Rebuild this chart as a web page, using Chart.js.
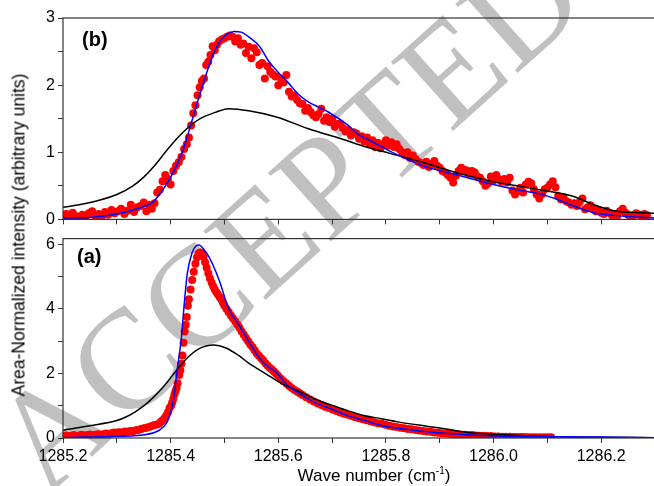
<!DOCTYPE html>
<html>
<head>
<meta charset="utf-8">
<script src="https://cdn.jsdelivr.net/npm/chart.js@4/dist/chart.umd.min.js"></script>
<style>
  html, body { margin: 0; padding: 0; background: #fff; overflow: hidden; }
  #wrap { position: relative; width: 654px; height: 486px; overflow: hidden; font-family: Arial, "Liberation Sans", sans-serif; }
  canvas { position: absolute; left: 0; z-index: 1; }
  #cb { top: 0; }
  #ca { top: 226px; }
  .wm { position: absolute; left: 286px; top: 217px; transform: translate(-50%, -50%) rotate(-42deg);
        font-family: "Liberation Serif", "DejaVu Serif", serif; font-size: 142px; line-height: 1;
        color: #c0c0c0; white-space: nowrap; z-index: 0; }
  .ytitle { position: absolute; left: 19px; top: 235px; transform: translate(-50%, -50%) rotate(-90deg);
            font-size: 17.5px; white-space: nowrap; z-index: 2; }
  .xtitle { position: absolute; left: 374px; top: 475px; transform: translate(-50%, -50%);
            font-size: 17px; white-space: nowrap; z-index: 2; line-height: 1; }
  .xtitle sup { font-size: 10px; }
  .plab { position: absolute; font-weight: bold; font-size: 20px; z-index: 2; line-height: 1; }
</style>
</head>
<body>
<div id="wrap">
  <div class="wm">ACCEPTED</div>
  <canvas id="cb" width="659" height="232"></canvas>
  <canvas id="ca" width="659" height="260"></canvas>
  <div class="plab" style="left:82px;top:29px;">(b)</div>
  <div class="plab" style="left:77px;top:246px;">(a)</div>
  <div class="ytitle">Area-Normalized intensity (arbitrary units)</div>
  <div class="xtitle">Wave number (cm<sup>-1</sup>)</div>
</div>
<script>
// ── axis ticks ────────────────────────────────────────────────────────────────
const xTickValues = [1285.2, 1285.3, 1285.4, 1285.5, 1285.6, 1285.7, 1285.8, 1285.9, 1286.0, 1286.1, 1286.2];
const xTickLabels = ['1285.2', '', '1285.4', '', '1285.6', '', '1285.8', '', '1286.0', '', '1286.2'];
const bTickValues = [0, 0.5, 1, 1.5, 2, 2.5, 3];
const bTickLabels = ['0', '', '1', '', '2', '', '3'];
const aTickValues = [0, 1, 2, 3, 4, 5, 6];
const aTickLabels = ['0', '', '2', '', '4', '', '6'];

// ── panel (b): measured points ────────────────────────────────────────────────
const bDotX = [
  1285.200,1285.206,1285.212,1285.218,1285.224,1285.230,1285.236,1285.242,1285.248,1285.254,
  1285.260,1285.266,1285.272,1285.278,1285.284,1285.290,1285.296,1285.302,1285.308,1285.314,
  1285.320,1285.326,1285.332,1285.338,1285.344,1285.350,1285.355,1285.360,1285.365,1285.370,
  1285.375,1285.380,1285.385,1285.390,1285.395,1285.400,1285.405,1285.410,1285.415,1285.420,
  1285.425,1285.430,1285.434,1285.438,1285.442,1285.446,1285.450,1285.454,1285.458,1285.462,
  1285.466,1285.470,1285.474,1285.478,1285.482,1285.486,1285.490,1285.495,1285.500,1285.505,
  1285.510,1285.515,1285.520,1285.525,1285.530,1285.535,1285.540,1285.545,1285.550,1285.555,
  1285.560,1285.565,1285.570,1285.575,1285.580,1285.585,1285.590,1285.595,1285.600,1285.605,
  1285.610,1285.615,1285.620,1285.625,1285.630,1285.635,1285.640,1285.645,1285.650,1285.655,
  1285.660,1285.665,1285.670,1285.675,1285.680,1285.685,1285.690,1285.695,1285.700,1285.705,
  1285.710,1285.715,1285.720,1285.725,1285.730,1285.735,1285.740,1285.745,1285.750,1285.755,
  1285.760,1285.765,1285.770,1285.775,1285.780,1285.785,1285.790,1285.795,1285.800,1285.805,
  1285.810,1285.815,1285.820,1285.825,1285.830,1285.835,1285.840,1285.845,1285.850,1285.855,
  1285.860,1285.865,1285.870,1285.875,1285.880,1285.885,1285.890,1285.895,1285.900,1285.905,
  1285.910,1285.915,1285.920,1285.925,1285.930,1285.935,1285.940,1285.945,1285.950,1285.955,
  1285.960,1285.965,1285.970,1285.975,1285.980,1285.985,1285.990,1285.995,1286.000,1286.005,
  1286.010,1286.015,1286.020,1286.025,1286.030,1286.035,1286.040,1286.045,1286.050,1286.055,
  1286.060,1286.065,1286.070,1286.075,1286.080,1286.085,1286.090,1286.095,1286.100,1286.105,
  1286.110,1286.115,1286.120,1286.125,1286.130,1286.135,1286.140,1286.145,1286.150,1286.155,
  1286.160,1286.165,1286.170,1286.175,1286.180,1286.185,1286.190,1286.195,1286.200,1286.205,
  1286.210,1286.215,1286.220,1286.225,1286.230,1286.235,1286.240,1286.245,1286.250,1286.255,
  1286.260,1286.265,1286.270,1286.275,1286.280,1286.285
];
const bDotY = [
  0.04,0.08,0.03,0.10,0.05,0.02,0.07,0.04,0.09,0.12,
  0.05,0.08,0.04,0.11,0.07,0.14,0.09,0.12,0.16,0.08,
  0.13,0.22,0.11,0.18,0.20,0.25,0.12,0.22,0.16,0.24,
  0.40,0.44,0.57,0.66,0.60,0.52,0.72,0.80,0.85,0.93,
  1.05,1.12,1.22,1.40,1.58,1.70,1.85,1.97,2.06,2.10,
  2.30,2.35,2.45,2.58,2.52,2.60,2.65,2.68,2.70,2.72,
  2.74,2.72,2.65,2.70,2.60,2.62,2.48,2.57,2.40,2.55,
  2.49,2.30,2.33,2.10,2.28,2.20,2.16,2.13,2.00,2.10,
  2.04,2.15,1.90,1.83,1.85,1.78,1.73,1.72,1.62,1.66,
  1.60,1.55,1.52,1.57,1.65,1.47,1.52,1.45,1.50,1.38,
  1.42,1.43,1.36,1.31,1.33,1.25,1.30,1.28,1.20,1.24,
  1.16,1.22,1.12,1.18,1.08,1.14,1.06,1.12,1.18,1.10,
  1.15,1.08,1.12,1.05,1.00,0.96,1.00,0.92,0.95,0.90,
  0.86,0.84,0.81,0.86,0.78,0.82,0.87,0.80,0.77,0.72,
  0.70,0.66,0.62,0.55,0.65,0.72,0.77,0.74,0.73,0.68,
  0.72,0.70,0.64,0.62,0.57,0.50,0.54,0.64,0.58,0.66,
  0.60,0.56,0.60,0.55,0.62,0.43,0.37,0.42,0.47,0.40,
  0.52,0.56,0.54,0.45,0.37,0.31,0.38,0.45,0.47,0.52,
  0.57,0.48,0.35,0.30,0.33,0.27,0.25,0.22,0.24,0.20,
  0.26,0.31,0.15,0.18,0.21,0.16,0.12,0.14,0.10,0.08,
  0.13,0.10,0.06,0.08,0.05,0.12,0.16,0.10,0.07,0.04,
  0.06,0.09,0.07,0.05,0.08,0.06
];

// ── panel (b): fit (blue) and model (black) ───────────────────────────────────
const bBlueX = [1285.200,1285.250,1285.300,1285.342,1285.366,1285.380,1285.398,1285.412,1285.425,1285.440,
  1285.453,1285.466,1285.478,1285.490,1285.503,1285.518,1285.531,1285.545,1285.565,1285.582,
  1285.600,1285.619,1285.638,1285.656,1285.693,1285.730,1285.748,1285.767,1285.809,1285.872,
  1285.933,1285.994,1286.044,1286.086,1286.118,1286.149,1286.186,1286.223,1286.300];
const bBlueY = [0.02,0.03,0.08,0.17,0.25,0.38,0.60,0.82,1.08,1.48,
  1.83,2.16,2.44,2.63,2.75,2.80,2.79,2.72,2.58,2.36,
  2.19,2.03,1.86,1.75,1.60,1.40,1.27,1.19,1.01,0.79,
  0.66,0.53,0.44,0.38,0.30,0.20,0.10,0.06,0.02];
const bBlackX = [1285.200,1285.255,1285.300,1285.330,1285.350,1285.370,1285.390,1285.410,1285.430,1285.455,
  1285.485,1285.508,1285.545,1285.595,1285.656,1285.717,1285.767,1285.809,1285.872,1285.933,
  1285.994,1286.044,1286.086,1286.149,1286.186,1286.223,1286.300];
const bBlackY = [0.18,0.26,0.37,0.50,0.63,0.80,1.00,1.19,1.35,1.50,
  1.60,1.65,1.62,1.53,1.35,1.20,1.07,0.98,0.84,0.69,
  0.57,0.50,0.44,0.34,0.22,0.13,0.09];

// ── panel (a): measured points ────────────────────────────────────────────────
const aDotX = [
  1285.200,1285.205,1285.210,1285.215,1285.220,1285.225,1285.230,1285.235,1285.240,1285.245,
  1285.250,1285.255,1285.260,1285.265,1285.270,1285.275,1285.280,1285.285,1285.290,1285.295,
  1285.300,1285.305,1285.310,1285.315,1285.320,1285.325,1285.330,1285.335,1285.340,1285.345,
  1285.350,1285.355,1285.360,1285.365,1285.370,1285.375,1285.379,1285.382,1285.385,1285.389,
  1285.392,1285.395,1285.398,1285.401,1285.403,1285.405,1285.407,1285.409,1285.411,1285.413,
  1285.416,1285.418,1285.420,1285.422,1285.424,1285.426,1285.428,1285.430,1285.432,1285.434,
  1285.437,1285.440,1285.443,1285.446,1285.449,1285.452,1285.455,1285.458,1285.461,1285.464,
  1285.467,1285.470,1285.473,1285.476,1285.479,1285.482,1285.485,1285.488,1285.491,1285.494,
  1285.497,1285.500,1285.504,1285.508,1285.512,1285.516,1285.520,1285.524,1285.528,1285.532,
  1285.536,1285.540,1285.544,1285.548,1285.552,1285.556,1285.560,1285.564,1285.568,1285.572,
  1285.576,1285.580,1285.584,1285.588,1285.592,1285.596,1285.600,1285.605,1285.610,1285.615,
  1285.620,1285.625,1285.630,1285.635,1285.640,1285.645,1285.652,1285.659,1285.666,1285.673,
  1285.680,1285.687,1285.694,1285.701,1285.708,1285.715,1285.722,1285.729,1285.736,1285.743,
  1285.750,1285.757,1285.764,1285.771,1285.778,1285.785,1285.792,1285.799,1285.806,1285.813,
  1285.820,1285.827,1285.834,1285.841,1285.848,1285.855,1285.862,1285.869,1285.876,1285.883,
  1285.890,1285.897,1285.904,1285.911,1285.918,1285.925,1285.932,1285.939,1285.946,1285.953,
  1285.960,1285.967,1285.974,1285.981,1285.988,1285.995,1286.002,1286.009,1286.016,1286.023,
  1286.030,1286.037,1286.044,1286.051,1286.058,1286.065,1286.072,1286.079,1286.086,1286.093,
  1286.100,1286.107
];
const aDotY = [
  0.06,0.08,0.05,0.07,0.09,0.06,0.08,0.10,0.07,0.09,
  0.11,0.08,0.10,0.12,0.10,0.12,0.14,0.13,0.15,0.17,
  0.16,0.18,0.17,0.20,0.19,0.22,0.21,0.24,0.25,0.28,
  0.30,0.32,0.34,0.37,0.40,0.42,0.45,0.50,0.55,0.62,
  0.70,0.80,0.93,1.00,1.10,1.22,1.35,1.45,1.55,1.70,
  1.95,2.10,2.30,2.56,2.95,3.30,3.50,3.75,4.10,4.30,
  4.60,4.90,5.15,5.40,5.60,5.72,5.75,5.72,5.62,5.45,
  5.28,5.10,4.95,4.82,4.70,4.60,4.52,4.45,4.37,4.30,
  4.20,4.10,4.00,3.90,3.80,3.70,3.62,3.52,3.42,3.30,
  3.20,3.10,3.00,2.90,2.82,2.72,2.62,2.55,2.47,2.40,
  2.32,2.25,2.18,2.12,2.06,1.99,1.92,1.84,1.76,1.69,
  1.62,1.55,1.49,1.44,1.39,1.33,1.26,1.19,1.13,1.07,
  1.02,0.97,0.93,0.88,0.84,0.79,0.75,0.72,0.68,0.64,
  0.61,0.58,0.55,0.52,0.49,0.46,0.44,0.41,0.38,0.36,
  0.34,0.32,0.30,0.28,0.27,0.25,0.23,0.22,0.20,0.19,
  0.17,0.16,0.15,0.14,0.13,0.12,0.12,0.11,0.10,0.09,
  0.09,0.08,0.07,0.07,0.06,0.06,0.05,0.05,0.04,0.04,
  0.04,0.03,0.03,0.03,0.03,0.02,0.02,0.02,0.02,0.02,
  0.02,0.02
];

// ── panel (a): fit (blue) and model (black) ───────────────────────────────────
const aBlueX = [1285.200,1285.280,1285.348,1285.379,1285.392,1285.398,1285.403,1285.407,1285.412,1285.420,
  1285.425,1285.431,1285.440,1285.447,1285.453,1285.460,1285.471,1285.490,1285.508,1285.527,
  1285.545,1285.564,1285.577,1285.595,1285.614,1285.638,1285.669,1285.699,1285.730,1285.761,
  1285.791,1285.822,1285.896,1286.007,1286.192,1286.300];
const aBlueY = [0.01,0.04,0.09,0.24,0.45,0.69,1.00,1.39,2.10,3.10,
  4.10,5.10,5.75,5.95,5.98,5.88,5.62,4.90,4.00,3.50,
  3.00,2.50,2.26,2.05,1.69,1.39,1.09,0.90,0.69,0.54,
  0.39,0.30,0.16,0.06,0.03,0.01];
const aBlackX = [1285.200,1285.250,1285.300,1285.318,1285.335,1285.348,1285.361,1285.379,1285.392,1285.403,
  1285.416,1285.429,1285.440,1285.453,1285.466,1285.480,1285.503,1285.527,1285.545,1285.577,
  1285.606,1285.638,1285.669,1285.699,1285.730,1285.761,1285.791,1285.822,1285.878,1285.915,
  1285.957,1286.020,1286.112,1286.200,1286.300];
const aBlackY = [0.24,0.38,0.54,0.66,0.82,0.97,1.15,1.45,1.70,1.93,
  2.20,2.45,2.62,2.77,2.85,2.88,2.79,2.55,2.32,1.99,
  1.69,1.45,1.20,1.02,0.84,0.69,0.60,0.50,0.36,0.27,
  0.16,0.10,0.04,0.02,0.01];

Chart.defaults.font.family = 'Arial, "Liberation Sans", sans-serif';
Chart.defaults.font.size = 16;
Chart.defaults.color = '#000';

function pts(xs, ys) {
  return xs.map(function(x, i) { return { x: x, y: ys[i] }; });
}

const framePlugin = {
  id: 'frame',
  afterDatasetsDraw(chart) {
    const a = chart.chartArea, ctx = chart.ctx;
    ctx.save();
    ctx.strokeStyle = '#333';
    ctx.lineWidth = 1.2;
    ctx.strokeRect(a.left, a.top, a.right - a.left, a.bottom - a.top);
    ctx.restore();
  }
};

function makePanel(id, p) {
  const h = document.getElementById(id).height;
  return new Chart(document.getElementById(id), {
    type: 'scatter',
    data: {
      datasets: [
        { data: pts(p.blueX, p.blueY), showLine: true, borderColor: '#0000ff', borderWidth: 1.5,
          pointRadius: 0, cubicInterpolationMode: 'monotone', order: 1 },
        { data: pts(p.blackX, p.blackY), showLine: true, borderColor: '#000', borderWidth: 1.5,
          pointRadius: 0, cubicInterpolationMode: 'monotone', order: 2 },
        { data: pts(p.dotX, p.dotY), backgroundColor: '#ff0000', borderWidth: 0,
          pointRadius: 4, order: 3 }
      ]
    },
    options: {
      responsive: false,
      animation: false,
      events: [],
      layout: { padding: { top: p.top, left: 0, right: 0, bottom: 0 } },
      plugins: { legend: { display: false }, tooltip: { enabled: false } },
      scales: {
        x: {
          type: 'linear', min: 1285.2, max: 1286.3,
          afterBuildTicks: function(s) { s.ticks = xTickValues.map(function(v) { return { value: v }; }); },
          afterFit: function(s) { s.height = h - p.bottom; },
          grid: { drawOnChartArea: false, drawTicks: true, tickLength: 5, color: '#333' },
          border: { display: false },
          ticks: {
            padding: 4, maxRotation: 0, autoSkip: false,
            callback: function(v, i) { return p.xLabels ? xTickLabels[i] : ''; }
          }
        },
        y: {
          min: p.yMin, max: p.yMax,
          afterBuildTicks: function(s) { s.ticks = p.yTicks.map(function(v) { return { value: v }; }); },
          afterFit: function(s) { s.width = 63; },
          grid: { drawOnChartArea: false, drawTicks: true, tickLength: 5, color: '#333' },
          border: { display: false },
          ticks: { padding: 3, autoSkip: false, callback: function(v, i) { return p.yLabels[i]; } }
        }
      }
    },
    plugins: [framePlugin]
  });
}

makePanel('cb', {
  dotX: bDotX, dotY: bDotY, blueX: bBlueX, blueY: bBlueY, blackX: bBlackX, blackY: bBlackY,
  yMin: 0, yMax: 3, yTicks: bTickValues, yLabels: bTickLabels,
  top: 18, bottom: 222, xLabels: false
});
makePanel('ca', {
  dotX: aDotX, dotY: aDotY, blueX: aBlueX, blueY: aBlueY, blackX: aBlackX, blackY: aBlackY,
  yMin: 0, yMax: 6.18, yTicks: aTickValues, yLabels: aTickLabels,
  top: 7, bottom: 212, xLabels: true
});
</script>
</body>
</html>
